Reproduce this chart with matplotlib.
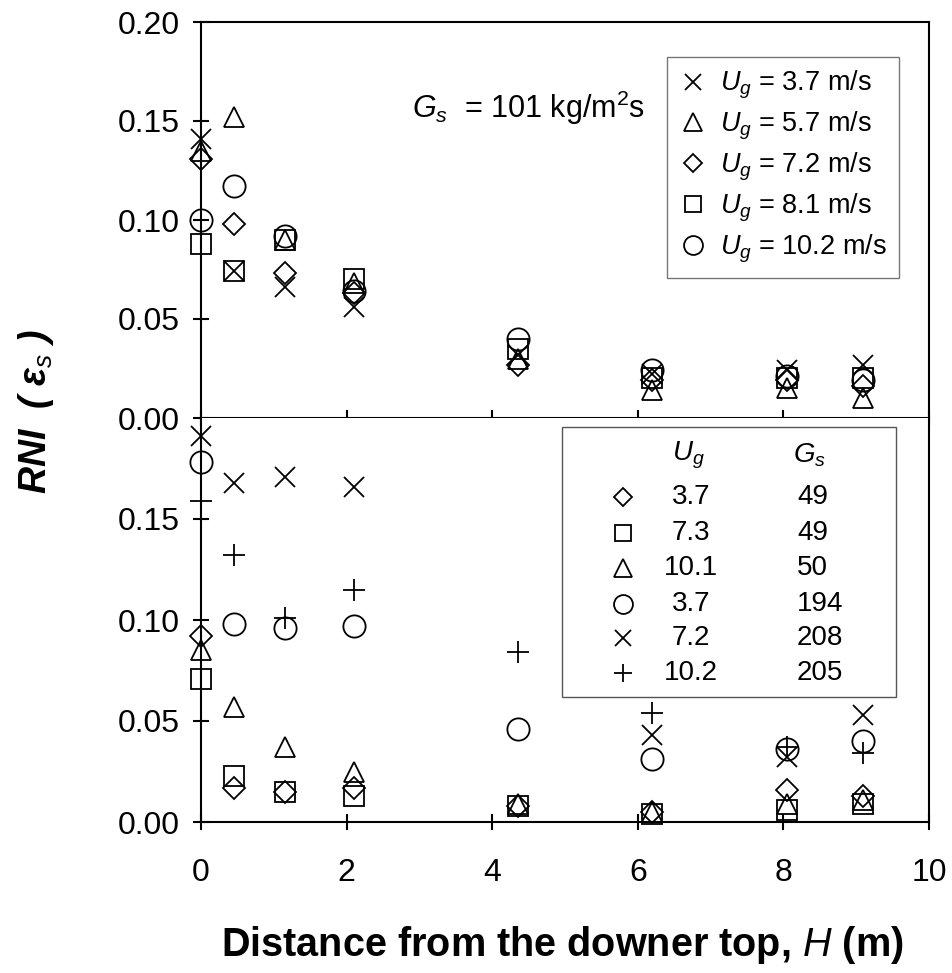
import numpy as np
import matplotlib
matplotlib.use("Agg")
import matplotlib.pyplot as plt
from matplotlib.ticker import FormatStrFormatter
from matplotlib.patches import Rectangle

plt.rcParams['font.family'] = ['Liberation Sans', 'DejaVu Sans']
plt.rcParams['mathtext.fontset'] = 'custom'
plt.rcParams['mathtext.rm'] = 'Liberation Sans'
plt.rcParams['mathtext.it'] = 'Liberation Sans:italic'
plt.rcParams['mathtext.bf'] = 'Liberation Sans:bold'

# ---------------- data ----------------
H = [0, 0.45, 1.15, 2.1, 4.35, 6.2, 8.05, 9.1]

# Top panel: Gs = 101 kg/m2s
top_labels = ["3.7", "5.7", "7.2", "8.1", "10.2"]
top_ug37 = [0.141, 0.074, 0.066, 0.056, 0.032, 0.022, 0.024, 0.027]
top_ug57 = [0.135, 0.152, 0.090, 0.068, 0.030, 0.014, 0.015, 0.010]
top_ug72 = [0.131, 0.098, 0.073, 0.063, 0.027, 0.019, 0.019, 0.016]
top_ug81 = [0.088, 0.074, 0.090, 0.070, 0.035, 0.020, 0.020, 0.020]
top_ug102 = [0.100, 0.117, 0.092, 0.064, 0.040, 0.024, 0.021, 0.019]

# Bottom panel: various Ug / Gs
bot_ug = ["3.7", "7.3", "10.1", "3.7", "7.2", "10.2"]
bot_gs = ["49", "49", "50", "194", "208", "205"]
bot_s1 = [0.092, 0.017, 0.015, 0.017, 0.008, 0.005, 0.016, 0.013]   # diamond
bot_s2 = [0.071, 0.023, 0.015, 0.013, 0.008, 0.004, 0.006, 0.009]   # square
bot_s3 = [0.085, 0.057, 0.037, 0.025, 0.009, 0.005, 0.009, 0.011]   # triangle
bot_s4 = [0.178, 0.098, 0.096, 0.097, 0.046, 0.031, 0.036, 0.040]   # circle
bot_s5 = [0.191, 0.168, 0.171, 0.166, np.nan, 0.043, 0.032, 0.053]  # x
bot_s6 = [0.159, 0.132, 0.101, 0.115, 0.084, 0.054, 0.037, 0.034]   # plus

# ---------------- figure ----------------
W, Hpx = 952, 973
fig = plt.figure(figsize=(W / 100, Hpx / 100), dpi=100)
left = 201 / W
right = 929 / W
y_top = 1 - 22 / Hpx
y_mid = 1 - 418 / Hpx
y_bot = 1 - 822 / Hpx
ax1 = fig.add_axes([left, y_mid, right - left, y_top - y_mid])
ax2 = fig.add_axes([left, y_bot, right - left, y_mid - y_bot])

mstyle = {
    'x': dict(marker='x', ms=14),
    '^': dict(marker='^', ms=15),
    'D': dict(marker='D', ms=11),
    's': dict(marker='s', ms=14),
    'o': dict(marker='o', ms=16),
    '+': dict(marker='+', ms=16),
}

def plot_series(ax, x, y, m):
    st = mstyle[m]
    return ax.plot(x, y, linestyle='none', marker=st['marker'], ms=st['ms'],
                   mfc='none', mec='black', mew=1.3, color='black',
                   clip_on=False, zorder=3)[0]

top_series = [top_ug37, top_ug57, top_ug72, top_ug81, top_ug102]
top_markers = ['x', '^', 'D', 's', 'o']
handles = []
for ys, m in zip(top_series, top_markers):
    handles.append(plot_series(ax1, H, ys, m))

bot_series = [bot_s1, bot_s2, bot_s3, bot_s4, bot_s5, bot_s6]
bot_markers = ['D', 's', '^', 'o', 'x', '+']
for ys, m in zip(bot_series, bot_markers):
    plot_series(ax2, H, ys, m)

for ax in (ax1, ax2):
    ax.set_xlim(0, 10)
    ax.set_ylim(0, 0.20)
    for sp in ax.spines.values():
        sp.set_linewidth(1.5)
    ax.tick_params(direction='inout', length=12, width=1.5, labelsize=23)
    ax.tick_params(axis='y', pad=9, right=False)
    ax.tick_params(axis='x', pad=20, top=False)
    ax.yaxis.set_major_formatter(FormatStrFormatter('%.2f'))
    ax.set_xticks([0, 2, 4, 6, 8, 10])

ax1.set_yticks([0, 0.05, 0.10, 0.15, 0.20])
ax1.tick_params(axis='x', labelbottom=False)
ax2.set_yticks([0, 0.05, 0.10, 0.15])
ax2.spines['top'].set_visible(False)

# top legend
leg = ax1.legend(handles, [r"$U_g$ = %s m/s" % v for v in top_labels],
                 loc='upper left', bbox_to_anchor=(0.640, 0.9116),
                 borderaxespad=0, fontsize=19.5, markerscale=0.85,
                 frameon=True, fancybox=False, edgecolor='#555555',
                 handlelength=1.0, handletextpad=0.5, labelspacing=0.32,
                 borderpad=0.45)
leg.get_frame().set_linewidth(1.0)

ax1.text(0.290, 0.783, r"$G_s$  = 101 kg/m$^2$s", transform=ax1.transAxes,
         fontsize=22, ha='left', va='center')

# bottom manual legend table
def fx(px):
    return (px - 201) / 728
def fy(py):
    return 1 - (py - 418) / 404

ax2.add_patch(Rectangle((fx(562), fy(697)), fx(896) - fx(562), fy(427) - fy(697),
                        transform=ax2.transAxes, fill=False, edgecolor='#555555',
                        linewidth=1.0, zorder=4))
ax2.text(fx(672), fy(455), r"$U_g$", transform=ax2.transAxes, fontsize=20,
         ha='left', va='center')
ax2.text(fx(793), fy(455), r"$G_s$", transform=ax2.transAxes, fontsize=20,
         ha='left', va='center')
row_y = [497, 533, 568, 604, 638, 673]
for i, (m, ug, gs) in enumerate(zip(bot_markers, bot_ug, bot_gs)):
    st = mstyle[m]
    ax2.plot([fx(623)], [fy(row_y[i])], transform=ax2.transAxes, linestyle='none',
             marker=st['marker'], ms=st['ms'] * 0.85, mfc='none', mec='black',
             mew=1.3, clip_on=False, zorder=5)
    ax2.text(fx(691), fy(row_y[i]), ug, transform=ax2.transAxes, fontsize=20,
             ha='center', va='center')
    ax2.text(fx(797), fy(row_y[i]), gs, transform=ax2.transAxes, fontsize=20,
             ha='left', va='center')

# axis labels
fig.text(562 / W, 1 - 945 / Hpx, r"Distance from the downer top, $\mathit{H}$ (m)",
         ha='center', va='center', fontsize=28.5, fontweight='bold')
fig.text(36 / W, 1 - 412 / Hpx, r"RNI  ( ε$_{s}$ )", rotation=90,
         ha='center', va='center', fontsize=27, fontweight='bold', fontstyle='italic')

fig.savefig("out.png", dpi=100)
